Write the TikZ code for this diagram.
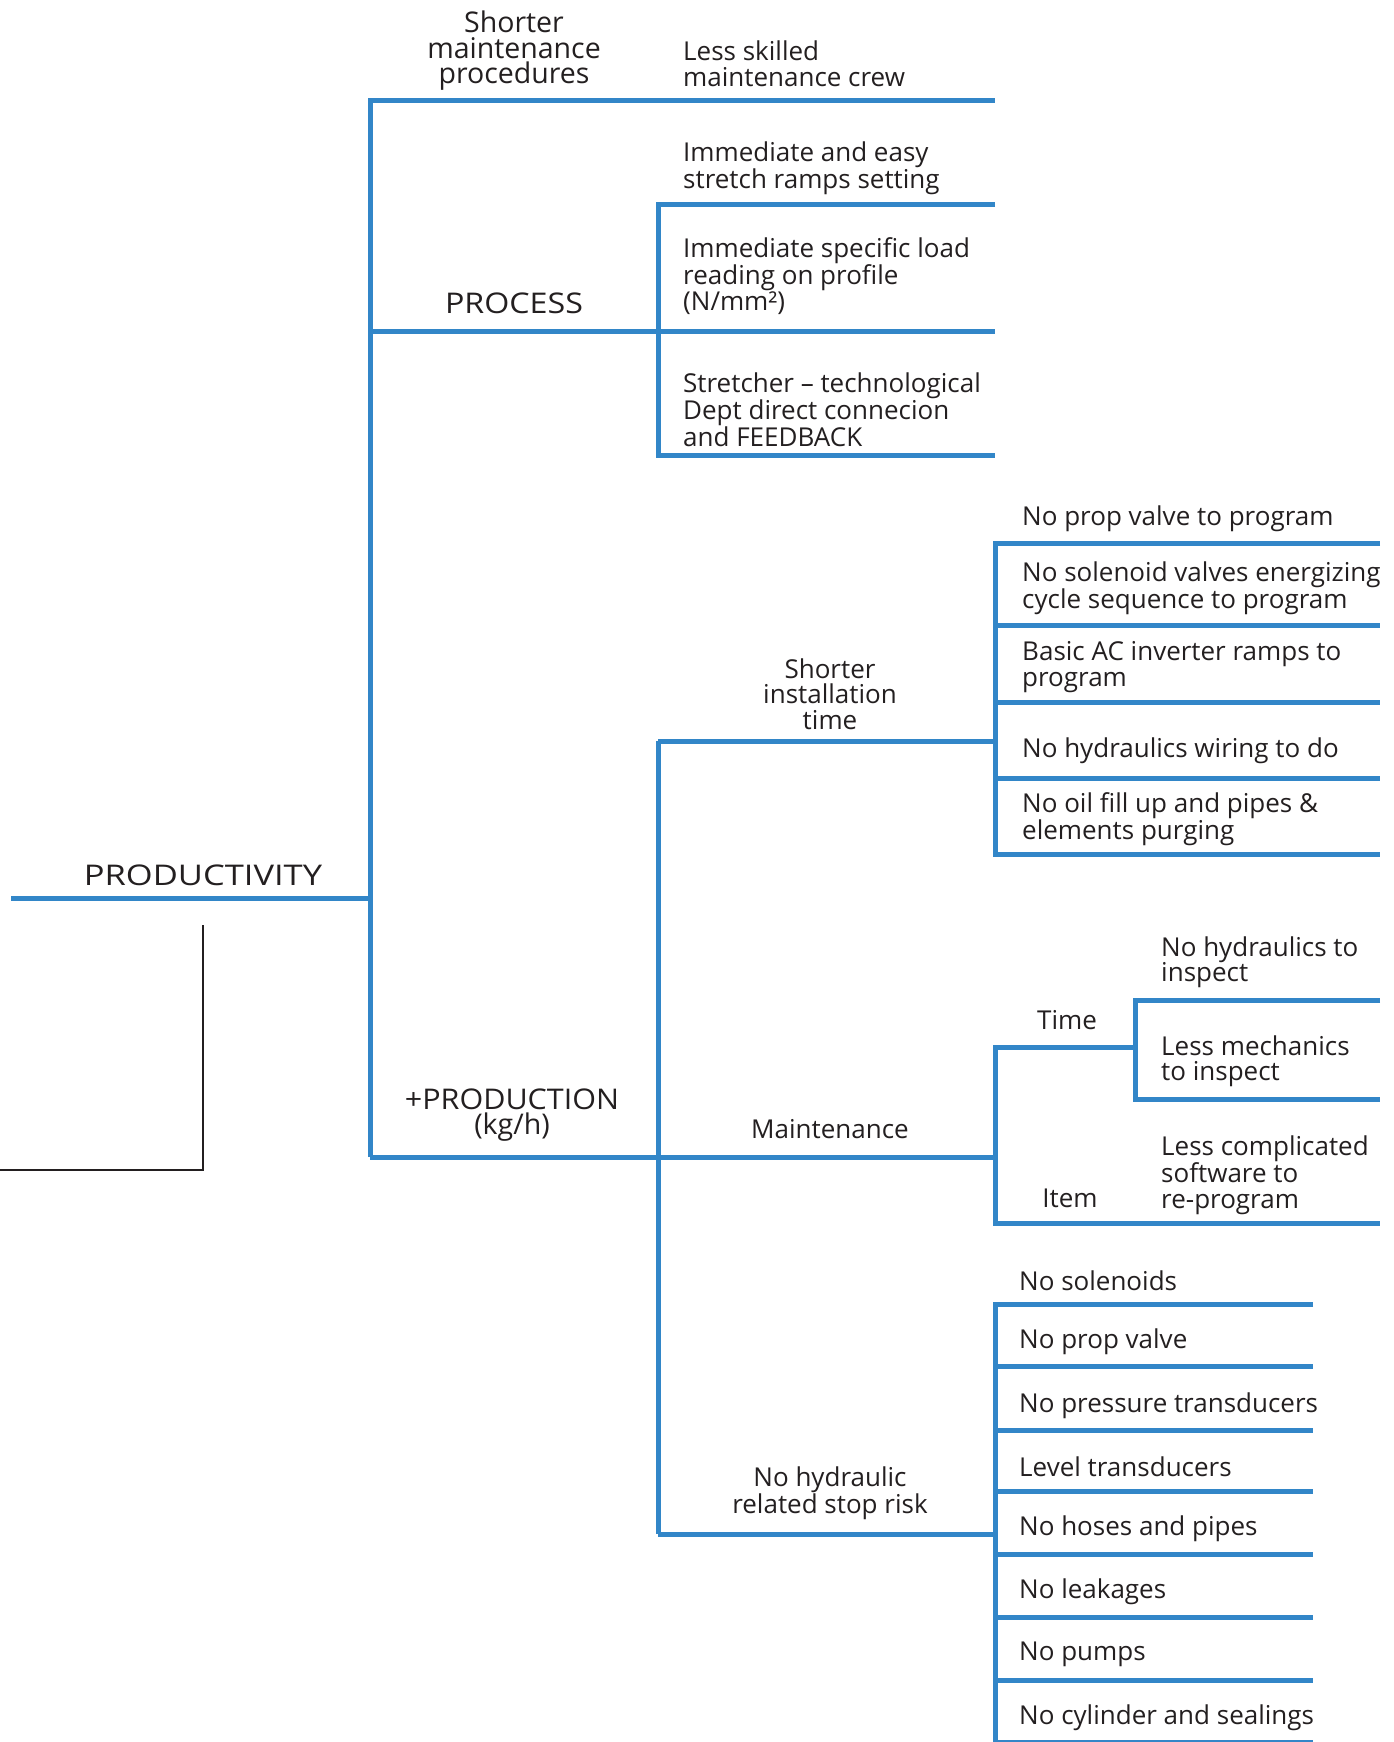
\documentclass[tikz,border=0pt]{standalone}
\usepackage{fontspec}
\setmainfont{Open Sans}
\definecolor{lineblue}{RGB}{50,134,200}
\definecolor{txt}{RGB}{35,31,32}
\tikzset{
  bl/.style={draw=lineblue, line width=5pt},
  blk/.style={draw=txt, line width=2.2pt},
  lab/.style={inner sep=0pt, text=txt, font=\fontsize{26}{25.5}\selectfont, align=left, anchor=west},
  clab/.style={inner sep=0pt, text=txt, font=\fontsize{26}{25.5}\selectfont, align=center},
  toplab/.style={inner sep=0pt, text=txt, font=\fontsize{28.5}{25.5}\selectfont, align=center},
}
\begin{document}
\begin{tikzpicture}[x=1pt,y=-1pt]
\useasboundingbox (0,0) rectangle (1394,1742);
% coordinates
\coordinate (r0) at (11,898);
\coordinate (r1) at (370,898);
\coordinate (a0) at (370,101);
\coordinate (a1) at (995,101);
\coordinate (p0) at (370,331);
\coordinate (p1) at (658,331);
\coordinate (p2) at (995,331);
\coordinate (pt) at (658,204);
\coordinate (pt1) at (995,204);
\coordinate (pb) at (658,455);
\coordinate (pb1) at (995,455);
\coordinate (q0) at (370,1157);
\coordinate (q1) at (658,1157);
\coordinate (v0) at (658,741);
\coordinate (v1) at (658,1534);
\coordinate (s1) at (995,741);
\coordinate (sa) at (995,543);
\coordinate (sb) at (995,625);
\coordinate (sc) at (995,702);
\coordinate (sd) at (995,778);
\coordinate (se) at (995,854);
\coordinate (sa1) at (1380,543);
\coordinate (sb1) at (1380,625);
\coordinate (sc1) at (1380,702);
\coordinate (sd1) at (1380,778);
\coordinate (se1) at (1380,854);
\coordinate (m1) at (995,1157);
\coordinate (mt) at (995,1047);
\coordinate (mi) at (995,1223);
\coordinate (mi1) at (1380,1223);
\coordinate (tt) at (1135,1047);
\coordinate (ta) at (1135,1000);
\coordinate (tb) at (1135,1099);
\coordinate (ta1) at (1380,1000);
\coordinate (tb1) at (1380,1099);
\coordinate (h1) at (995,1534);
\foreach \i/\yy in {1/1304,2/1366,3/1430,4/1491,5/1554,6/1617,7/1680,8/1742}{
  \coordinate (hl\i) at (995,\yy);
  \coordinate (hr\i) at (1313,\yy);
}
\coordinate (k0) at (203,925);
\coordinate (k1) at (203,1170);
\coordinate (k2) at (0,1170);

% lines
\draw[bl] (r0) -- (r1);
\draw[bl] (q0) -- (a0) -- (a1);
\draw[bl] (p0) -- (p1) -- (p2);
\draw[bl] (pt1) -- (pt) -- (pb) -- (pb1);
\draw[bl] (q0) -- (q1);
\draw[bl] (v0) -- (v1);
\draw[bl] (v0) -- (s1);
\draw[bl] (sa1) -- (sa) -- (se) -- (se1);
\draw[bl] (sb) -- (sb1);
\draw[bl] (sc) -- (sc1);
\draw[bl] (sd) -- (sd1);
\draw[bl] (q1) -- (m1);
\draw[bl] (tt) -- (mt) -- (mi) -- (mi1);
\draw[bl] (ta1) -- (ta) -- (tb) -- (tb1);
\draw[bl] (v1) -- (h1);
\draw[bl] (hr1) -- (hl1) -- (hl8) -- (hr8);
\foreach \i in {2,...,7}{\draw[bl] (hl\i) -- (hr\i);}
\draw[blk] (k0) -- (k1) -- (k2);

% labels
\node[toplab] (n-prod) at (203,875) {\scalebox{1.21}[1]{PRODUCTIVITY}};
\node[toplab] (n-smp) at (514,51) {Shorter\\maintenance\\procedures};
\node[toplab] (n-proc) at (514,303) {\scalebox{1.13}[1]{PROCESS}};
\node[toplab] (n-plus) at (512,1115) {\scalebox{1.07}[1]{+PRODUCTION}\\(kg/h)};
\node[lab] (n-lsm) at (683,64) {Less skilled\\maintenance crew};
\node[lab] (n-iae) at (683,168) {Immediate and easy\\stretch ramps setting};
\node[lab] (n-isl) at (683,276) {Immediate specific load\\reading on profile\\(N/mm²)};
\node[lab] (n-str) at (683,410) {Stretcher – technological\\Dept direct connecion\\and FEEDBACK};
\node[clab] (n-sit) at (830,694) {Shorter\\installation\\time};
\node[clab] (n-mnt) at (830,1129) {Maintenance};
\node[clab] (n-nhr) at (830,1493) {No hydraulic\\related stop risk};
\node[lab] (n-l1) at (1022,519) {No prop valve to program};
\node[lab] (n-l2) at (1022,588) {No solenoid valves energizing\\cycle sequence to program};
\node[lab] (n-l3) at (1022,667) {Basic AC inverter ramps to\\program};
\node[lab] (n-l4) at (1022,751) {No hydraulics wiring to do};
\node[lab] (n-l5) at (1022,819) {No oil fill up and pipes \&\\elements purging};
\node[clab] (n-time) at (1067,1020) {Time};
\node[clab] (n-item) at (1070,1198) {Item};
\node[lab] (n-t1) at (1161,962) {No hydraulics to\\inspect};
\node[lab] (n-t2) at (1161,1061) {Less mechanics\\to inspect};
\node[lab] (n-i1) at (1161,1175) {Less complicated\\software to\\re-program};
\node[lab] (n-h1) at (1019,1281) {No solenoids};
\node[lab] (n-h2) at (1019,1342) {No prop valve};
\node[lab] (n-h3) at (1019,1406) {No pressure transducers};
\node[lab] (n-h4) at (1019,1467) {Level transducers};
\node[lab] (n-h5) at (1019,1529) {No hoses and pipes};
\node[lab] (n-h6) at (1019,1592) {No leakages};
\node[lab] (n-h7) at (1019,1654) {No pumps};
\node[lab] (n-h8) at (1019,1718) {No cylinder and sealings};
\end{tikzpicture}
\end{document}
